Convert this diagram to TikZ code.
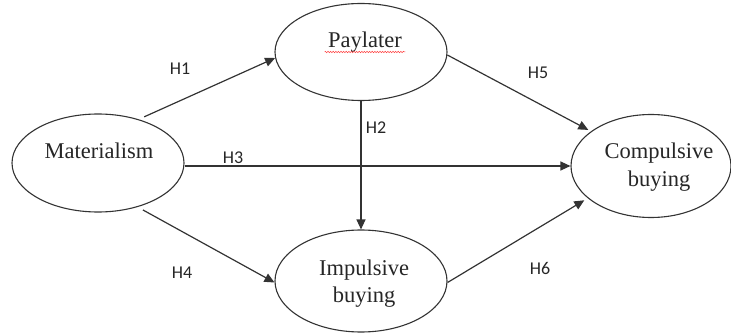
\documentclass[tikz,border=0pt]{standalone}
\usepackage{fontspec}
\setmainfont{Liberation Serif}
\newfontfamily\hfont{Carlito}
\usetikzlibrary{shapes.geometric,arrows.meta,decorations.pathmorphing}

\begin{document}
\begin{tikzpicture}[x=1pt,y=-1pt,
  construct/.style={draw=black!80, line width=1.1pt, ellipse, inner sep=0pt},
  ctext/.style={anchor=base, text=black!85, font=\fontsize{22.5}{28}\selectfont},
  hyp/.style={text=black!85, font=\hfont\fontsize{18}{20}\selectfont},
  path/.style={draw=black!80, line width=1.2pt, -{Triangle[length=10pt,width=9pt]}}
]
\useasboundingbox (0,0) rectangle (731,334);

% constructs
\node[construct, minimum width=172pt, minimum height=98pt]  (mat)  at (98,163)  {};
\node[construct, minimum width=172pt, minimum height=97pt]  (pay)  at (361,52)  {};
\node[construct, minimum width=172pt, minimum height=102pt] (imp)  at (361,281) {};
\node[construct, minimum width=160pt, minimum height=103pt] (comp) at (651,166) {};

% construct names
\node[ctext] (matT)   at (99,158)  {Materialism};
\node[ctext] (payT)   at (365,48)  {Paylater};
\node[ctext] (impT1)  at (364,275) {Impulsive};
\node[ctext] (impT2)  at (364,302) {buying};
\node[ctext] (compT1) at (659,158) {Compulsive};
\node[ctext] (compT2) at (659,186) {buying};

% spell-check squiggle under the word
\draw[red!75, line width=0.5pt, decorate,
      decoration={snake, amplitude=0.7pt, segment length=2.6pt}]
  ([yshift=-4pt]payT.base west) -- ([yshift=-4pt]payT.base east);

% hypothesised paths
\draw[path, shorten <=6pt] (mat.47) -- (pay.184);
\draw[path] (pay.south) -- (imp.north);
\draw[path] (mat.east |- comp.west) -- (comp.west);
\draw[path, shorten <=6pt] (mat.-48) -- (imp.181);
\draw[path, shorten >=3pt] (pay.-2) -- (comp.150);
\draw[path, shorten >=4pt] (imp.-1) -- (comp.207);

% path labels
\node[hyp] (h1) at (180,69)  {H1};
\node[hyp] (h2) at (376,128) {H2};
\node[hyp] (h3) at (233,158) {H3};
\node[hyp] (h4) at (182,273) {H4};
\node[hyp] (h5) at (538,73)  {H5};
\node[hyp] (h6) at (540,268) {H6};
\end{tikzpicture}
\end{document}
